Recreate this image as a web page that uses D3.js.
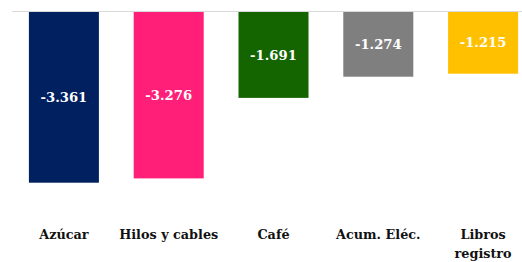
<!DOCTYPE html>
<html>
<head>
<meta charset="utf-8">
<script src="https://cdn.jsdelivr.net/npm/d3@7"></script>
<style>
  body { margin: 0; background: #fff; }
</style>
</head>
<body>
<div id="chart"></div>
<script>
var width  = 522;
var height = 262;

// datos
var categorias = ["Azúcar", "Hilos y cables", "Café", "Acum. Eléc.", "Libros registro"];
var valores    = [-3.361, -3.276, -1.691, -1.274, -1.215];
var colores    = ["#00205f", "#ff1f79", "#146400", "#7f7f7f", "#ffc000"];
var etiquetas  = ["-3.361", "-3.276", "-1.691", "-1.274", "-1.215"];

var svg = d3.select("#chart").append("svg")
  .attr("width", width)
  .attr("height", height);

var x = d3.scaleBand()
  .domain(categorias)
  .range([11.5, 535.5])
  .paddingInner(0.332)
  .paddingOuter(0.166);

var y = d3.scaleLinear()
  .domain([0, -3.361])
  .range([12, 182.7]);

// linea base
svg.append("line")
  .attr("x1", 12).attr("x2", width)
  .attr("y1", y(0) - 0.5).attr("y2", y(0) - 0.5)
  .style("stroke", "#d9d9d9")
  .style("stroke-width", 1);

svg.selectAll(".bar")
  .data(valores)
  .enter().append("rect")
  .attr("class", "bar")
  .attr("x", function(d, i) { return x(categorias[i]); })
  .attr("y", y(0))
  .attr("width", x.bandwidth())
  .attr("height", function(d) { return y(d) - y(0); })
  .style("fill", function(d, i) { return colores[i]; });

svg.selectAll(".valor")
  .data(valores)
  .enter().append("text")
  .attr("class", "valor")
  .attr("x", function(d, i) { return x(categorias[i]) + x.bandwidth() / 2; })
  .attr("y", function(d) { return (y(0) + y(d)) / 2; })
  .attr("dy", "0.35em")
  .attr("text-anchor", "middle")
  .style("font-family", "'DejaVu Serif', serif")
  .style("font-weight", "bold")
  .style("font-size", "13.2px")
  .style("fill", "#fff")
  .text(function(d, i) { return etiquetas[i]; });

var cat = svg.selectAll(".cat")
  .data(categorias)
  .enter().append("text")
  .attr("class", "cat")
  .attr("x", function(d) { return x(d) + x.bandwidth() / 2; })
  .attr("y", 239)
  .attr("text-anchor", "middle")
  .style("font-family", "'DejaVu Serif', serif")
  .style("font-weight", "bold")
  .style("font-size", "12.8px")
  .style("fill", "#111");

cat.each(function(d) {
  var partes = d === "Libros registro" ? ["Libros", "registro"] : [d];
  var t = d3.select(this);
  partes.forEach(function(p, j) {
    t.append("tspan")
      .attr("x", t.attr("x"))
      .attr("dy", j === 0 ? 0 : 18.5)
      .text(p);
  });
});
</script>
</body>
</html>
